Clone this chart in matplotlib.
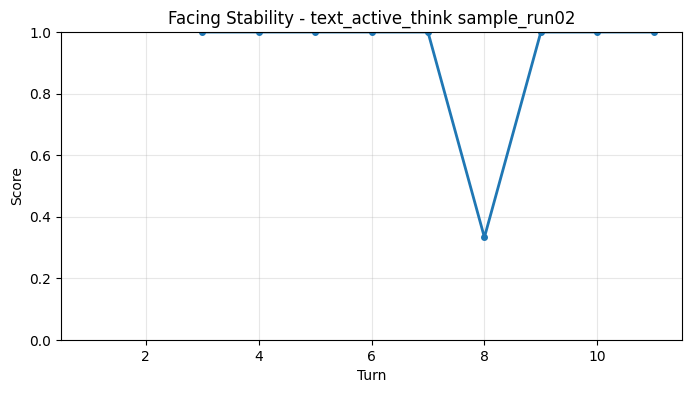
import matplotlib
matplotlib.use("Agg")
import matplotlib.pyplot as plt
import numpy as np

turns = [1, 2, 3, 4, 5, 6, 7, 8, 9, 10, 11]
scores = [np.nan, np.nan, 1.0, 1.0, 1.0, 1.0, 1.0, 0.3333, 1.0, 1.0, 1.0]

fig = plt.figure(figsize=(6.91, 3.93), dpi=100)
ax = fig.add_axes([61/691, 1-340/393, (682-61)/691, (340-32)/393])
ax.plot(turns, scores, marker='o', linewidth=2, markersize=4, color='#1f77b4')
ax.set_ylim(0, 1)
ax.set_xlim(0.5, 11.5)
ax.set_xlabel('Turn')
ax.set_ylabel('Score')
ax.set_title('Facing Stability - text_active_think sample_run02')
ax.grid(True, alpha=0.3)
fig.savefig('out.png', dpi=100)
